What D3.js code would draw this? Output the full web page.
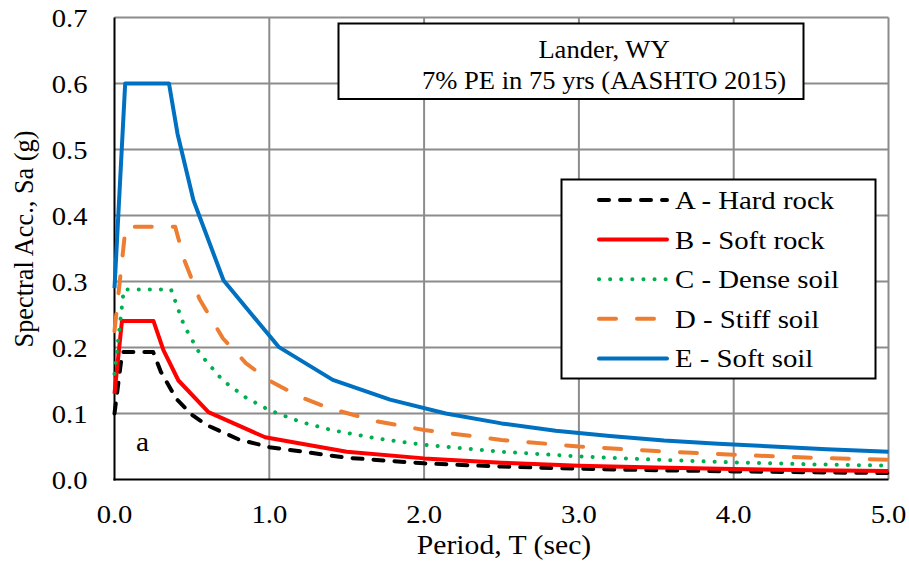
<!DOCTYPE html>
<html>
<head>
<meta charset="utf-8">
<script src="https://cdn.jsdelivr.net/npm/d3@7"></script>
<style>
  body { margin: 0; background: #fff; }
  text { font-family: "Liberation Serif", "Times New Roman", serif; fill: #000; }
</style>
</head>
<body>
<div id="chart"></div>
<script>
'use strict';

// periods (sec) and spectral acceleration (g)
const periodsA = [0, 0.05, 0.25, 0.3, 0.4, 0.5, 0.6, 0.8, 1.0, 1.5, 2.0, 2.5, 3.0, 3.5, 4.0, 4.5, 5.0];
const saA = [0.10, 0.193, 0.193, 0.163, 0.122, 0.098, 0.082, 0.061, 0.049, 0.033, 0.0245, 0.0196, 0.0163, 0.014, 0.0123, 0.0109, 0.0098];

const periodsB = [0, 0.048, 0.252, 0.316, 0.413, 0.607, 0.973, 1.5, 2.0, 2.5, 3.0, 3.5, 4.0, 4.5, 5.0];
const saB = [0.13, 0.24, 0.24, 0.196, 0.150, 0.102, 0.064, 0.042, 0.032, 0.0255, 0.021, 0.018, 0.016, 0.014, 0.0128];

const periodsC = [0, 0.06, 0.365, 0.45, 0.55, 0.7, 0.85, 1.0, 1.2, 1.4, 1.7, 2.0, 2.5, 3.0, 3.5, 4.0, 4.5, 5.0];
const saC = [0.16, 0.288, 0.288, 0.233, 0.191, 0.150, 0.124, 0.105, 0.0875, 0.075, 0.062, 0.0525, 0.042, 0.035, 0.030, 0.026, 0.023, 0.021];

const periodsD = [0, 0.072, 0.392, 0.45, 0.55, 0.7, 0.85, 1.0, 1.2, 1.4, 1.7, 2.0, 2.5, 3.0, 3.5, 4.0, 4.5, 5.0];
const saD = [0.225, 0.383, 0.383, 0.333, 0.273, 0.214, 0.176, 0.150, 0.125, 0.107, 0.088, 0.075, 0.060, 0.050, 0.043, 0.0375, 0.033, 0.030];

const periodsE = [0, 0.069, 0.352, 0.407, 0.51, 0.704, 1.06, 1.41, 1.78, 2.14, 2.5, 2.85, 3.2, 3.55, 3.9, 4.25, 4.6, 5.0];
const saE = [0.29, 0.6, 0.6, 0.524, 0.423, 0.302, 0.201, 0.151, 0.121, 0.100, 0.085, 0.074, 0.066, 0.059, 0.054, 0.050, 0.046, 0.042];

const seriesNames = ['A - Hard rock', 'B - Soft rock', 'C - Dense soil', 'D - Stiff soil', 'E - Soft soil'];
const xTicks = [0, 1, 2, 3, 4, 5];
const yTicks = [0, 0.1, 0.2, 0.3, 0.4, 0.5, 0.6, 0.7];
const titleLines = ['Lander, WY', '7% PE in 75 yrs (AASHTO 2015)'];
const panelLabel = 'a';

const series = [
  { name: seriesNames[0], t: periodsA, sa: saA, color: '#000000', dash: '10,11', cap: 'round' },
  { name: seriesNames[1], t: periodsB, sa: saB, color: '#FF0000', dash: null, cap: 'butt' },
  { name: seriesNames[2], t: periodsC, sa: saC, color: '#00B050', dash: '0.1,11', cap: 'round' },
  { name: seriesNames[3], t: periodsD, sa: saD, color: '#ED7D31', dash: '17,21', cap: 'round' },
  { name: seriesNames[4], t: periodsE, sa: saE, color: '#0070C0', dash: null, cap: 'butt' }
];

const width = 909;
const height = 561;
const plot = { left: 114.5, right: 888.5, top: 17.5, bottom: 479.5 };

const svg = d3.select('#chart').append('svg')
  .attr('width', width)
  .attr('height', height);

const xScale = d3.scaleLinear().domain([0, 5]).range([plot.left, plot.right]);
const yScale = d3.scaleLinear().domain([0, 0.7]).range([plot.bottom, plot.top]);

// the source picture is a little wider than tall, so text gets a horizontal stretch
function stretched(x, y, sx) {
  return 'translate(' + x + ',' + y + ') scale(' + sx + ',1)';
}

// gridlines
svg.append('g')
  .selectAll('line')
  .data(yTicks.slice(1))
  .enter().append('line')
  .attr('x1', plot.left).attr('x2', plot.right)
  .attr('y1', d => yScale(d)).attr('y2', d => yScale(d))
  .style('stroke', '#8c8c8c').style('stroke-width', 2);

svg.append('g')
  .selectAll('line')
  .data(xTicks.slice(1))
  .enter().append('line')
  .attr('y1', plot.top).attr('y2', plot.bottom)
  .attr('x1', d => xScale(d)).attr('x2', d => xScale(d))
  .style('stroke', '#8c8c8c').style('stroke-width', 2);

// axes lines
svg.append('line')
  .attr('x1', plot.left).attr('x2', plot.left)
  .attr('y1', plot.top).attr('y2', plot.bottom + 1)
  .style('stroke', '#000').style('stroke-width', 2);
svg.append('line')
  .attr('x1', plot.left - 1).attr('x2', plot.right)
  .attr('y1', plot.bottom).attr('y2', plot.bottom)
  .style('stroke', '#000').style('stroke-width', 2);

// tick labels
svg.append('g')
  .selectAll('text')
  .data(yTicks)
  .enter().append('text')
  .attr('transform', d => stretched(87.5, yScale(d) + 9, 1.1))
  .attr('text-anchor', 'end')
  .style('font-size', '26px')
  .text(d => d3.format('.1f')(d));

svg.append('g')
  .selectAll('text')
  .data(xTicks)
  .enter().append('text')
  .attr('transform', d => stretched(xScale(d), 523, 1.1))
  .attr('text-anchor', 'middle')
  .style('font-size', '26px')
  .text(d => d3.format('.1f')(d));

// axis titles
svg.append('text')
  .attr('transform', stretched(504, 554, 1.12))
  .attr('text-anchor', 'middle')
  .style('font-size', '26.5px')
  .text('Period, T (sec)');

svg.append('text')
  .attr('transform', 'translate(33,239) rotate(-90)')
  .attr('text-anchor', 'middle')
  .style('font-size', '26.3px')
  .text('Spectral Acc., Sa (g)');

// curves
const line = d3.line()
  .x(d => xScale(d[0]))
  .y(d => yScale(d[1]));

const chart = svg.append('g');
series.forEach(function (s) {
  const pts = s.t.map((t, i) => [t, s.sa[i]]);
  chart.append('path')
    .attr('d', line(pts))
    .style('fill', 'none')
    .style('stroke', s.color)
    .style('stroke-width', 4)
    .style('stroke-linecap', s.cap)
    .style('stroke-linejoin', 'round')
    .style('stroke-dasharray', s.dash);
});

// panel label
svg.append('text')
  .attr('transform', stretched(142.5, 451, 1.05))
  .attr('text-anchor', 'middle')
  .style('font-size', '28px')
  .text(panelLabel);

// title box
const titleBox = svg.append('g');
titleBox.append('rect')
  .attr('x', 338.5).attr('y', 23.5)
  .attr('width', 465).attr('height', 75.5)
  .style('fill', '#fff')
  .style('stroke', '#000').style('stroke-width', 2);
titleBox.selectAll('text')
  .data(titleLines)
  .enter().append('text')
  .attr('transform', (d, i) => stretched(604, 57.5 + i * 31.5, 1.085))
  .attr('text-anchor', 'middle')
  .style('font-size', '24.5px')
  .text(d => d);

// legend
const legend = svg.append('g');
legend.append('rect')
  .attr('x', 561.5).attr('y', 179.5)
  .attr('width', 314).attr('height', 199)
  .style('fill', '#fff')
  .style('stroke', '#000').style('stroke-width', 2);

const rows = legend.selectAll('g.row')
  .data(series)
  .enter().append('g')
  .attr('class', 'row')
  .attr('transform', (d, i) => 'translate(0,' + (200 + i * 39.6) + ')');

rows.append('line')
  .attr('x1', 599).attr('x2', 667)
  .attr('y1', 0).attr('y2', 0)
  .style('stroke', d => d.color)
  .style('stroke-width', 4)
  .style('stroke-linecap', 'round')
  .style('stroke-dasharray', d => d.dash);

rows.append('text')
  .attr('transform', stretched(675, 9, 1.13))
  .style('font-size', '25.5px')
  .text(d => d.name);
</script>
</body>
</html>
